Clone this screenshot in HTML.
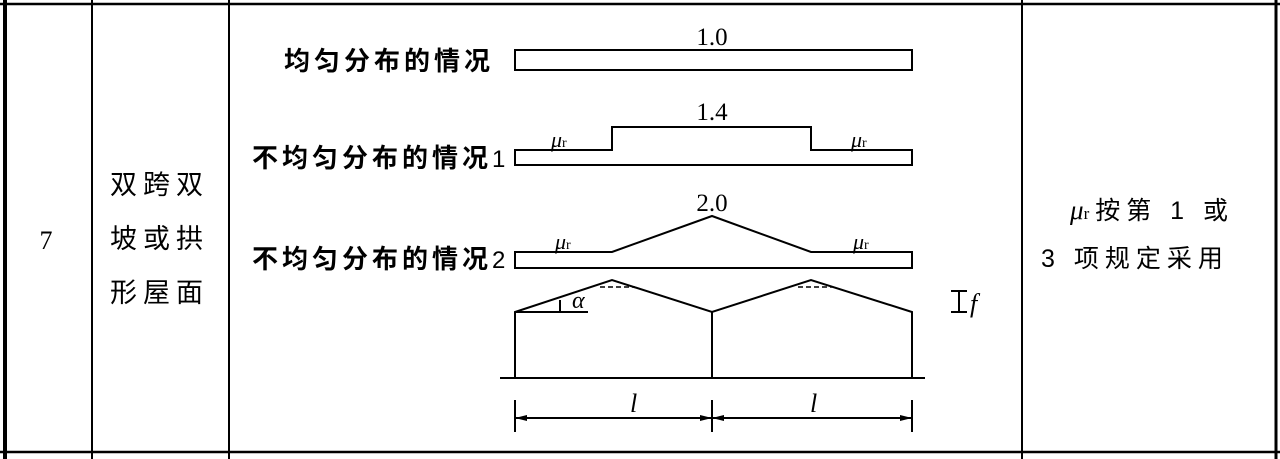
<!DOCTYPE html>
<html><head><meta charset="utf-8"><style>
html,body{margin:0;padding:0;background:#fff;}
svg{display:block;}
.t{font-family:"Liberation Sans","Noto Sans CJK SC",sans-serif;fill:#000;}
.s{font-family:"Liberation Serif","Noto Serif CJK SC",serif;fill:#000;}
</style></head><body>
<svg width="1280" height="459" viewBox="0 0 1280 459" xmlns="http://www.w3.org/2000/svg">
<g stroke="#000" fill="none">
<line x1="0" y1="4" x2="1280" y2="4" stroke-width="2.5"/>
<line x1="0" y1="452" x2="1280" y2="452" stroke-width="2.5"/>
<line x1="5" y1="0" x2="5" y2="459" stroke-width="4"/>
<line x1="1276" y1="0" x2="1276" y2="459" stroke-width="3"/>
<line x1="92" y1="0" x2="92" y2="459" stroke-width="2"/>
<line x1="229" y1="0" x2="229" y2="459" stroke-width="2"/>
<line x1="1022" y1="0" x2="1022" y2="459" stroke-width="2"/>
<g stroke-width="2">
<rect x="515" y="50" width="397" height="20"/>
<path d="M515 150 H612 V127 H811 V150 H912 V165 H515 Z"/>
<path d="M515 252 H612 L712 216 L811 252 H912 V268 H515 Z"/>
<path d="M515 378 V312 L612 280 L712 312 L811 280 L912 312 V378"/>
<line x1="712" y1="312" x2="712" y2="378"/>
<line x1="500" y1="378" x2="925" y2="378"/>
<line x1="515" y1="312" x2="588" y2="312"/>
<line x1="515" y1="400" x2="515" y2="432"/>
<line x1="712" y1="400" x2="712" y2="432"/>
<line x1="912" y1="400" x2="912" y2="432"/>
<line x1="515" y1="418" x2="912" y2="418"/>
<line x1="951" y1="291" x2="967" y2="291"/>
<line x1="951" y1="312" x2="967" y2="312"/>
<line x1="959" y1="291" x2="959" y2="312"/>
</g>
<line x1="600" y1="287" x2="635" y2="287" stroke-dasharray="5,3" stroke-width="1.5"/>
<line x1="798" y1="287" x2="832" y2="287" stroke-dasharray="5,3" stroke-width="1.5"/>
<line x1="560" y1="300" x2="560" y2="312" stroke-width="2"/>
</g>
<g fill="#000">
<path d="M515 418 l12 -3 v6 z M712 418 l-12 -3 v6 z M712 418 l12 -3 v6 z M912 418 l-12 -3 v6 z"/>
</g>
<text class="s" x="712" y="45" font-size="25" text-anchor="middle">1.0</text>
<text class="s" x="712" y="120" font-size="25" text-anchor="middle">1.4</text>
<text class="s" x="712" y="211" font-size="25" text-anchor="middle">2.0</text>
<text class="t" x="284" y="70" font-size="26" font-weight="bold" letter-spacing="4">均匀分布的情况</text>
<text class="t" x="252" y="167" font-size="26" font-weight="bold" letter-spacing="4">不均匀分布的情况<tspan font-weight="normal" font-size="24" letter-spacing="0">1</tspan></text>
<text class="t" x="252" y="268" font-size="26" font-weight="bold" letter-spacing="4">不均匀分布的情况<tspan font-weight="normal" font-size="24" letter-spacing="0">2</tspan></text>
<text class="s" x="551" y="147" font-size="22" font-style="italic">μ<tspan font-size="14" font-style="normal">r</tspan></text>
<text class="s" x="851" y="147" font-size="22" font-style="italic">μ<tspan font-size="14" font-style="normal">r</tspan></text>
<text class="s" x="555" y="249" font-size="22" font-style="italic">μ<tspan font-size="14" font-style="normal">r</tspan></text>
<text class="s" x="853" y="249" font-size="22" font-style="italic">μ<tspan font-size="14" font-style="normal">r</tspan></text>
<text class="s" x="572" y="308" font-size="24" font-style="italic">α</text>
<text class="s" x="970" y="312" font-size="26" font-style="italic">f</text>
<text class="s" x="630" y="412" font-size="26" font-style="italic">l</text>
<text class="s" x="810" y="412" font-size="26" font-style="italic">l</text>
<text class="s" x="46" y="249" font-size="26" text-anchor="middle">7</text>
<text class="t" x="110" y="194" font-size="27" letter-spacing="6">双跨双</text>
<text class="t" x="110" y="248" font-size="27" letter-spacing="6">坡或拱</text>
<text class="t" x="110" y="302" font-size="27" letter-spacing="6">形屋面</text>
<text class="t" x="1070" y="219" font-size="25" letter-spacing="6"><tspan class="s" font-style="italic" font-size="27" letter-spacing="0">μ</tspan><tspan class="s" font-size="17">r</tspan>按第 1 或</text>
<text class="t" x="1041" y="267" font-size="25" letter-spacing="6">3 项规定采用</text>
</svg>
</body></html>
